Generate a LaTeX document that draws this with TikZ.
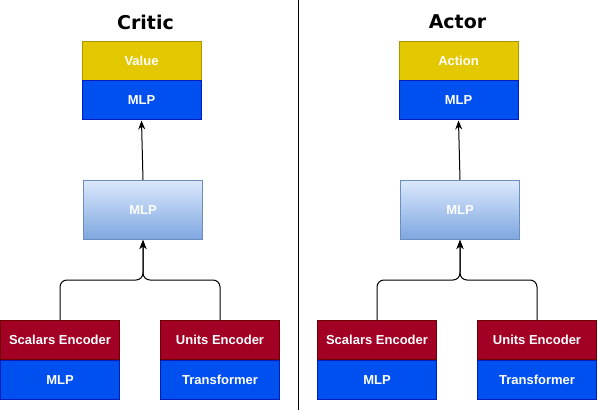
\documentclass[tikz,border=0pt]{standalone}
\usepackage{fontspec}
\setmainfont{Liberation Sans}
\newfontfamily\titlefont{DejaVu Sans}
\usetikzlibrary{arrows.meta}
\definecolor{outfill}{HTML}{E3C800}
\definecolor{outdraw}{HTML}{B09500}
\definecolor{netfill}{HTML}{0050EF}
\definecolor{netdraw}{HTML}{001DBC}
\definecolor{encfill}{HTML}{A20025}
\definecolor{encdraw}{HTML}{6F0000}
\definecolor{midtop}{HTML}{DAE8FC}
\definecolor{midbot}{HTML}{7EA6E0}
\definecolor{middraw}{HTML}{6C8EBF}
\begin{document}
\begin{tikzpicture}[x=1pt,y=-1pt,
 box/.style={draw,line width=1pt,minimum width=119pt,minimum height=39pt,inner sep=0pt,text=white,font=\fontsize{13}{15}\selectfont\bfseries},
 outbox/.style={box,fill=outfill,draw=outdraw},
 netbox/.style={box,fill=netfill,draw=netdraw},
 encbox/.style={box,fill=encfill,draw=encdraw},
 midbox/.style={box,top color=midtop,bottom color=midbot,draw=middraw,minimum height=59pt},
 headline/.style={font=\titlefont\fontsize{19}{21}\selectfont\bfseries},
 link/.style={line width=1pt,-{Stealth[length=9pt,width=7pt]},rounded corners=7pt}]
 \useasboundingbox (0,0) rectangle (598,412);
 % critic
 \node[headline] (critic) at (145.5,22) {Critic};
 \node[outbox] (cvalue) at (141.5,61) {Value};
 \node[netbox] (cvmlp) at (141.5,100.5) {MLP};
 \node[midbox] (cmid) at (143,210) {MLP};
 \node[encbox] (cscal) at (60,340) {Scalars Encoder};
 \node[netbox] (csmlp) at (60,380) {MLP};
 \node[encbox] (cunit) at (220,340) {Units Encoder};
 \node[netbox] (cutrf) at (220,380) {Transformer};
 \coordinate (cjoin) at (143,280);
 \draw[link] (cmid.north) -- (cvmlp.south);
 \draw[link] (cscal.north) |- (cjoin) -- (cmid.south);
 \draw[link] (cunit.north) |- (cjoin) -- (cmid.south);
 % divider
 \draw[line width=1pt] (298.5,0) -- (298.5,410);
 % actor
 \node[headline] (actor) at (457.5,22) {Actor};
 \node[outbox] (aaction) at (458.5,61) {Action};
 \node[netbox] (avmlp) at (458.5,100.5) {MLP};
 \node[midbox] (amid) at (460,210) {MLP};
 \node[encbox] (ascal) at (377,340) {Scalars Encoder};
 \node[netbox] (asmlp) at (377,380) {MLP};
 \node[encbox] (aunit) at (537,340) {Units Encoder};
 \node[netbox] (autrf) at (537,380) {Transformer};
 \coordinate (ajoin) at (460,280);
 \draw[link] (amid.north) -- (avmlp.south);
 \draw[link] (ascal.north) |- (ajoin) -- (amid.south);
 \draw[link] (aunit.north) |- (ajoin) -- (amid.south);
\end{tikzpicture}
\end{document}
